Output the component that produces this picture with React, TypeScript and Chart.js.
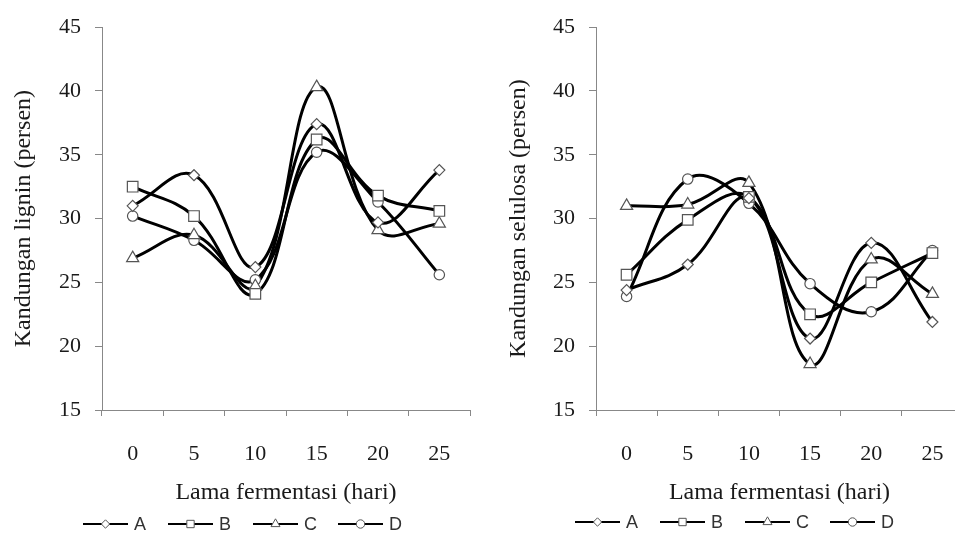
import React, { useEffect, useRef } from "react";
import { Chart, registerables } from "chart.js";
import { drawPoint } from "chart.js/helpers";

Chart.register(...registerables);

// ---- data ----
const categories = ["0", "5", "10", "15", "20", "25"];
const seriesNames = ["A", "B", "C", "D"];

const ligninA = [31.0, 33.4, 26.2, 37.4, 29.7, 33.8];
const ligninB = [32.5, 30.2, 24.1, 36.2, 31.8, 30.6];
const ligninC = [26.9, 28.7, 24.7, 40.3, 29.1, 29.6];
const ligninD = [30.2, 28.3, 25.2, 35.2, 31.3, 25.6];

const selulosaA = [24.4, 26.4, 31.6, 20.6, 28.1, 21.9];
const selulosaB = [25.6, 29.9, 31.7, 22.5, 25.0, 27.3];
const selulosaC = [31.0, 31.1, 32.8, 18.6, 26.8, 24.1];
const selulosaD = [23.9, 33.1, 31.2, 24.9, 22.7, 27.5];

const yMin = 15;
const yMax = 45;
const yStep = 5;

const xTitle = "Lama fermentasi (hari)";
const yTitleLignin = "Kandungan lignin (persen)";
const yTitleSelulosa = "Kandungan selulosa (persen)";

// ---- styles ----
const SERIF = '"Liberation Serif", "Times New Roman", serif';
const SANS = '"Liberation Sans", Arial, sans-serif';
const pointStyles = ["rectRot", "rect", "triangle", "circle"];
const pointRadii = [5.5, 7.5, 7, 5.2];
const legendRadii = [4.2, 5.2, 5.2, 4.2];
const AXIS = "#888";
const TEXT = "#1a1a1a";

const lineLegendPlugin = {
  id: "lineLegend",
  afterDraw(chart: any, _args: any, opts: any) {
    const ctx = chart.ctx as CanvasRenderingContext2D;
    const { left, bottom } = chart.chartArea;
    let x = left + opts.dx;
    const y = bottom + opts.dy;
    ctx.save();
    seriesNames.forEach((name, i) => {
      ctx.strokeStyle = "#000";
      ctx.lineWidth = 2;
      ctx.beginPath();
      ctx.moveTo(x, y);
      ctx.lineTo(x + 45, y);
      ctx.stroke();
      ctx.fillStyle = "#fff";
      ctx.strokeStyle = "#555";
      ctx.lineWidth = 1;
      drawPoint(
        ctx,
        { pointStyle: pointStyles[i], radius: legendRadii[i], borderWidth: 1, rotation: 0 } as any,
        x + 22.5,
        y
      );
      ctx.fillStyle = "#333";
      ctx.font = `18px ${SANS}`;
      ctx.textBaseline = "middle";
      ctx.textAlign = "left";
      ctx.fillText(name, x + 51, y + 1);
      x += 85;
    });
    ctx.restore();
  },
};

type Props = {
  width: number;
  left: number;
  series: number[][];
  yTitle: string;
  yWidth: number;
  padRight: number;
  legendDx: number;
  legendDy: number;
};

function LineChart({ width, left, series, yTitle, yWidth, padRight, legendDx, legendDy }: Props) {
  const ref = useRef<HTMLCanvasElement | null>(null);
  useEffect(() => {
    if (!ref.current) return;
    const lineSets = series.map((d, i) => ({
      label: seriesNames[i] + "-line",
      data: d,
      borderColor: "#000",
      borderWidth: 3,
      pointRadius: 0,
      tension: 0.4,
      fill: false,
      order: 10,
    }));
    const markerSets = series.map((d, i) => ({
      label: seriesNames[i],
      data: d,
      showLine: false,
      pointStyle: pointStyles[i],
      pointRadius: pointRadii[i],
      pointBackgroundColor: "#fff",
      pointBorderColor: "#555",
      pointBorderWidth: 1.2,
      order: 1,
    }));
    const chart = new Chart(ref.current, {
      type: "line",
      data: { labels: categories, datasets: [...lineSets, ...markerSets] as any },
      plugins: [lineLegendPlugin as any],
      options: {
        animation: false,
        responsive: false,
        devicePixelRatio: 1,
        layout: { padding: { left: 0, top: 23, right: padRight, bottom: 26 } },
        plugins: {
          legend: { display: false },
          tooltip: { enabled: false },
          lineLegend: { dx: legendDx, dy: legendDy },
        } as any,
        scales: {
          x: {
            offset: true,
            grid: {
              offset: true,
              drawOnChartArea: false,
              drawTicks: true,
              tickLength: 6,
              color: AXIS,
              lineWidth: 1,
            },
            border: { color: AXIS, width: 1 },
            ticks: { font: { family: SERIF, size: 22 }, color: TEXT, padding: 25, maxRotation: 0 },
            title: {
              display: true,
              text: xTitle,
              font: { family: SERIF, size: 24 },
              color: TEXT,
              padding: { top: 0, bottom: 3 },
            },
            afterFit: (s: any) => {
              s.height = 100;
            },
          },
          y: {
            min: yMin,
            max: yMax,
            ticks: { stepSize: yStep, font: { family: SERIF, size: 22 }, color: TEXT, padding: 14 },
            grid: { drawOnChartArea: false, drawTicks: true, tickLength: 7, color: AXIS, lineWidth: 1 },
            border: { color: AXIS, width: 1 },
            title: {
              display: true,
              text: yTitle,
              font: { family: SERIF, size: 24 },
              color: TEXT,
              padding: { top: 9, bottom: 0 },
            },
            afterFit: (s: any) => {
              s.width = yWidth;
            },
          },
        },
      } as any,
    });
    return () => chart.destroy();
  }, []);
  return (
    <canvas
      ref={ref}
      width={width}
      height={536}
      style={{ position: "absolute", left, top: 0, width, height: 536 }}
    />
  );
}

export default function App() {
  return (
    <div
      style={{
        position: "fixed",
        left: 0,
        top: 0,
        width: 955,
        height: 536,
        overflow: "hidden",
        background: "#fff",
      }}
    >
      <LineChart
        width={490}
        left={0}
        series={[ligninA, ligninB, ligninC, ligninD]}
        yTitle={yTitleLignin}
        yWidth={102}
        padRight={20}
        legendDx={-19}
        legendDy={114}
      />
      <LineChart
        width={485}
        left={495}
        series={[selulosaA, selulosaB, selulosaC, selulosaD]}
        yTitle={yTitleSelulosa}
        yWidth={101}
        padRight={17}
        legendDx={-21}
        legendDy={112}
      />
    </div>
  );
}
